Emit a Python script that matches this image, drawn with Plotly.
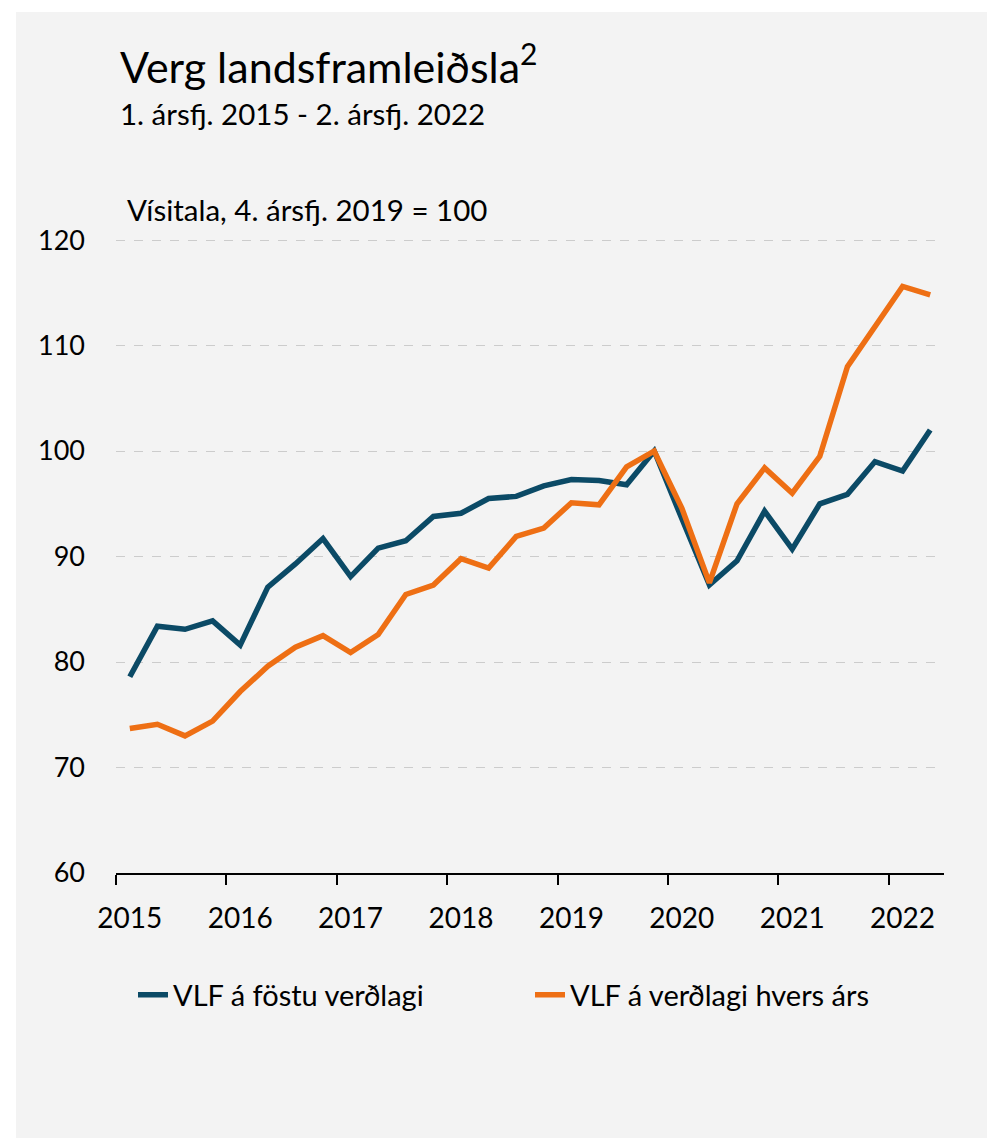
import plotly.graph_objects as go

quarters = list(range(30))  # 1. ársfj. 2015 - 2. ársfj. 2022
year_labels = ["2015", "2016", "2017", "2018", "2019", "2020", "2021", "2022"]
year_label_pos = [0, 4, 8, 12, 16, 20, 24, 28]
year_tick_pos = [-0.5, 3.5, 7.5, 11.5, 15.5, 19.5, 23.5, 27.5]

vlf_fast = [78.6, 83.4, 83.1, 83.9, 81.6, 87.1, 89.3, 91.7, 88.1, 90.8,
            91.5, 93.8, 94.1, 95.5, 95.7, 96.7, 97.3, 97.2, 96.8, 100.0,
            93.6, 87.3, 89.6, 94.3, 90.7, 95.0, 95.9, 99.0, 98.1, 102.0]
vlf_verd = [73.7, 74.1, 73.0, 74.4, 77.2, 79.6, 81.4, 82.5, 80.9, 82.6,
            86.4, 87.3, 89.8, 88.9, 91.9, 92.7, 95.1, 94.9, 98.5, 100.0,
            94.6, 87.5, 95.0, 98.4, 96.0, 99.5, 108.0, 111.7, 115.6, 114.8]

series_names = ["VLF á föstu verðlagi", "VLF á verðlagi hvers árs"]
colors = ["#0b4a66", "#ee6f14"]

FONT = "Lato"
OFF = 8  # page body margin
W, H = 995 - OFF, 1138 - OFF
ML, MR, MT, MB = 108, 51, 231, 265
PW, PH = W - ML - MR, H - MT - MB


def px(xr):
    # reference-screenshot pixel x -> paper coordinate
    return (xr - OFF - ML) / PW


def py(yr):
    # reference-screenshot pixel y -> paper coordinate
    return (H - MB - (yr - OFF)) / PH


fig = go.Figure()
for name, vals, col in zip(series_names, [vlf_fast, vlf_verd], colors):
    fig.add_trace(go.Scatter(x=quarters, y=vals, mode="lines", name=name,
                             line=dict(color=col, width=5.5)))

fig.update_layout(
    width=W, height=H,
    margin=dict(l=ML, r=MR, t=MT, b=MB),
    paper_bgcolor="white",
    plot_bgcolor="rgba(0,0,0,0)",
    font=dict(family=FONT, size=28, color="#000000"),
    showlegend=True,
    legend=dict(orientation="h", x=px(133), xanchor="left", y=py(995), yanchor="middle",
                font=dict(size=29, family=FONT), entrywidth=352, entrywidthmode="pixels",
                bgcolor="rgba(0,0,0,0)"),
    xaxis=dict(range=[-0.5, 29.5], tickmode="array", tickvals=year_label_pos,
               ticktext=year_labels, ticks="", showgrid=False, zeroline=False,
               showline=True, linecolor="#000000", linewidth=1.5,
               ticklabelstandoff=20, tickfont=dict(size=28),
               minor=dict(tickmode="array", tickvals=year_tick_pos, ticks="outside",
                          ticklen=10, tickcolor="#000000", tickwidth=1.5, showgrid=False)),
    yaxis=dict(range=[60, 120.1], tickmode="array", tickvals=[60, 70, 80, 90, 100, 110, 120],
               showgrid=True, gridcolor="#cccccc", griddash="dash", gridwidth=1,
               zeroline=False, showline=False, ticks="", ticklabelstandoff=30,
               tickfont=dict(size=27)),
    shapes=[dict(type="rect", xref="paper", yref="paper", layer="below",
                 x0=px(16), x1=px(1010), y0=py(1150), y1=py(12),
                 fillcolor="#f3f3f3", line=dict(width=0))],
    annotations=[
        dict(text="Verg landsframleiðsla<sup>2</sup>", xref="paper", yref="paper",
             x=px(118), y=py(64), xanchor="left", yanchor="middle", showarrow=False,
             font=dict(size=43, family=FONT)),
        dict(text="1. ársfj. 2015 - 2. ársfj. 2022", xref="paper", yref="paper",
             x=px(118), y=py(114), xanchor="left", yanchor="middle", showarrow=False,
             font=dict(size=29.5, family=FONT)),
        dict(text="Vísitala, 4. ársfj. 2019 = 100", xref="paper", yref="paper",
             x=px(125), y=py(209), xanchor="left", yanchor="middle", showarrow=False,
             font=dict(size=29.5, family=FONT)),
    ],
)

fig.write_html("out.html")
